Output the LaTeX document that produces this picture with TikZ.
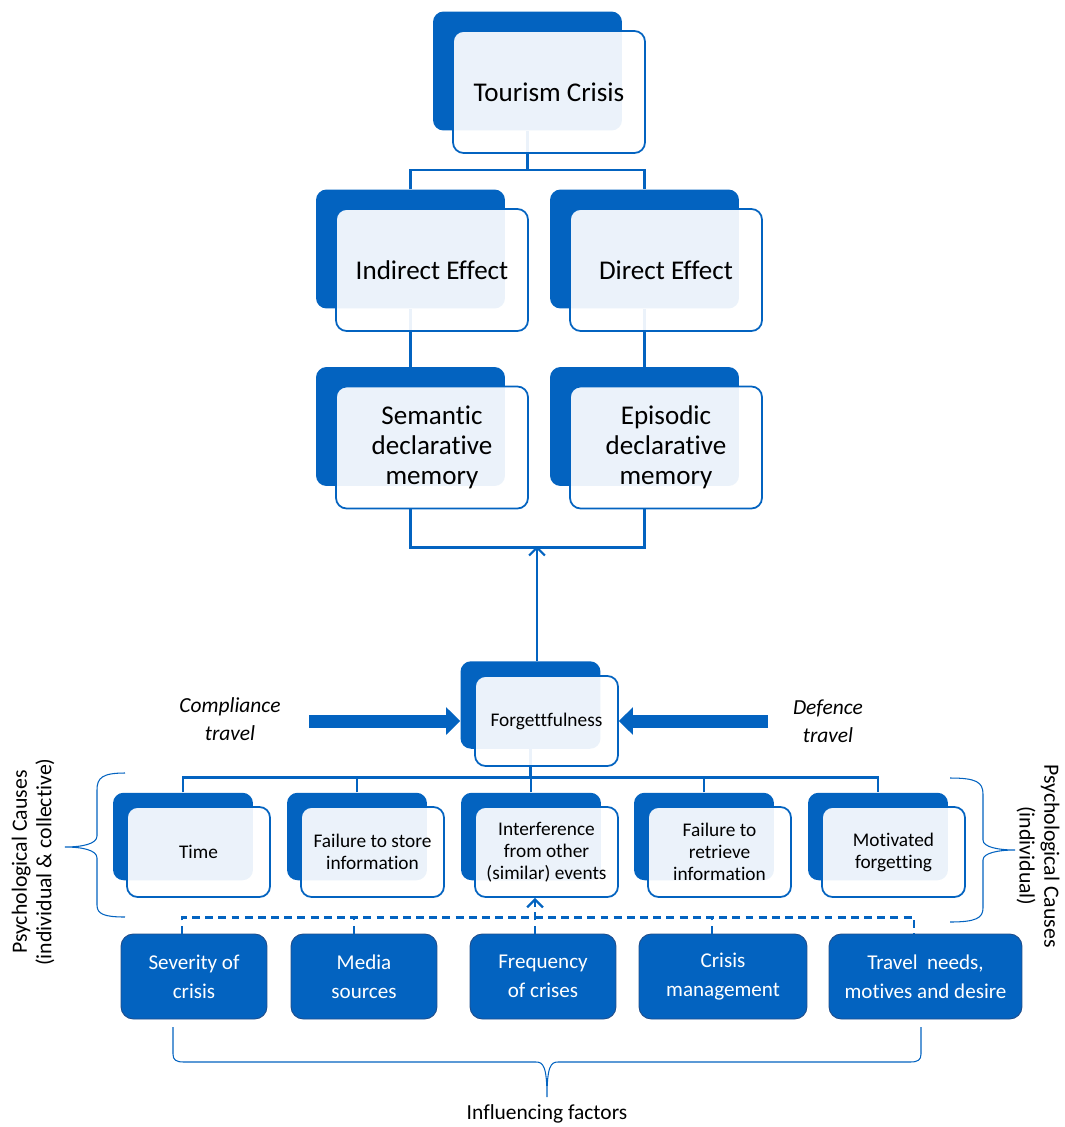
\documentclass[tikz,border=0pt]{standalone}
\usepackage{fontspec}
\setmainfont{Carlito}[Ligatures=NoCommon]
\usetikzlibrary{arrows.meta}
\definecolor{cblue}{RGB}{3,99,192}
\definecolor{cedge}{RGB}{32,78,140}

\begin{document}
\begin{tikzpicture}[x=0.02cm, y=-0.02cm,
    back/.style={fill=cblue, rounded corners=6pt, inner sep=0pt},
    bigback/.style={back, minimum width=3.78cm, minimum height=2.38cm},
    smallback/.style={back, minimum width=2.8cm, minimum height=1.75cm},
    front/.style={draw=cblue, line width=1pt, fill=white, fill opacity=0.92, text opacity=1,
        rounded corners=6pt, inner sep=0pt, align=center},
    bigfront/.style={front, minimum width=3.84cm, minimum height=2.44cm, font=\fontsize{15.4}{17}\selectfont},
    smallfront/.style={front, minimum width=2.86cm, minimum height=1.8cm, font=\fontsize{11}{12.5}\selectfont},
    factor/.style={draw=cedge, line width=0.5pt, fill=cblue, text=white, rounded corners=7pt,
        minimum height=1.7cm, inner sep=0pt, align=center, font=\fontsize{12}{16.4}\selectfont},
    link/.style={draw=cblue, line width=1.3pt},
    dlink/.style={draw=cblue, line width=1.3pt, dash pattern=on 4.5pt off 3pt},
    barb/.style={-{Straight Barb[length=4.5pt, width=9pt]}},
    brace/.style={draw=cblue, line width=0.6pt},
    blockarrow/.style={draw=cblue, line width=7.4pt, -{Triangle[width=15.3pt, length=8pt]}},
    travel/.style={font=\fontsize{12.2}{16}\selectfont\itshape, align=center},
    side/.style={font=\fontsize{12.4}{14}\selectfont, align=center}
]
    \useasboundingbox (0,0) rectangle (1065,1127);

    % back boxes
    \node[bigback] (01b) at (527.5,71) {};
    \node[bigback] (02b) at (410.5,249) {};
    \node[bigback] (03b) at (644.5,249) {};
    \node[bigback] (04b) at (410.5,426.5) {};
    \node[bigback] (05b) at (644.5,426.5) {};
    \node[smallback] (06b) at (530.5,705) {};
    \node[smallback] (07b) at (183,836.5) {};
    \node[smallback] (08b) at (357,836.5) {};
    \node[smallback] (09b) at (531,836.5) {};
    \node[smallback] (10b) at (704,836.5) {};
    \node[smallback] (11b) at (878,836.5) {};

    \draw[link] (01b.south) -- ++(0,40);
    \draw[link] (02b.north) -- ++(0,-19) -| (03b.north);
    \draw[link] (02b.south) -- (04b.north);
    \draw[link] (03b.south) -- (05b.north);
    \draw[link] (06b.south) -- ++(0,29);
    \draw[link] (07b.north) -- ++(0,-15) -| (11b.north);
    \draw[link] (08b.north) -- ++(0,-15);
    \draw[link] (09b.north) -- ++(0,-15);
    \draw[link] (10b.north) -- ++(0,-15);

    % front boxes
    \node[bigfront] (01) at (549,92) {Tourism Crisis};
    \node[bigfront] (02) at (432,270) {Indirect Effect};
    \node[bigfront] (03) at (666,270) {Direct Effect};
    \node[bigfront] (04) at (432,447.5) {Semantic\\declarative\\memory};
    \node[bigfront] (05) at (666,447.5) {Episodic\\declarative\\memory};
    \node[smallfront] (06) at (546.5,721) {Forgettfulness};
    \node[smallfront] (07) at (198.5,852) {Time};
    \node[smallfront] (08) at (372.5,852) {Failure to store\\information};
    \node[smallfront] (09) at (546.5,852) {Interference\\from other\\(similar) events};
    \node[smallfront] (10) at (719.5,852) {Failure to\\retrieve\\information};
    \node[smallfront] (11) at (893.5,852) {Motivated\\forgetting};

    % influencing factors
    \node[factor, minimum width=2.92cm] (12) at (194,976.5) {Severity of\\crisis};
    \node[factor, minimum width=2.92cm] (13) at (364,976.5) {Media\\sources};
    \node[factor, minimum width=2.92cm] (14) at (543,976.5) {Frequency\\of crises};
    \node[factor, minimum width=3.36cm] (15) at (723,976.5) {Crisis\\management};
    \node[factor, minimum width=3.86cm] (16) at (925.5,976.5) {Travel~ needs,\\motives and desire};

    \draw[link] (04b.south |- 04.south) -- ++(0,38) -| (05b.south |- 05.south);
    \coordinate (mem) at (537,546);
    \draw[link, barb] (mem |- 06b.north) -- (mem);

    \draw[dlink] ([xshift=-7pt]12.north) -- ++(0,-16) -| ([xshift=-6.5pt]16.north);
    \draw[dlink] ([xshift=-5.7pt]13.north) -- ++(0,-16);
    \draw[dlink] ([xshift=-6.2pt]15.north) -- ++(0,-16);
    \draw[dlink, barb] ([xshift=-4.5pt]14.north) -- ([xshift=-4.5pt]14.north |- 09.south);

    % compliance and defence
    \node[travel] (ct) at (230,719) {Compliance\\travel};
    \node[travel] (dt) at (828,721) {Defence\\travel};
    \coordinate (cta) at (309,721);
    \coordinate (dta) at (768,721);
    \draw[blockarrow] (cta) -- (06b.west |- 06.west);
    \draw[blockarrow] (dta) -- (06.east);

    % braces
    \draw[brace] (125,773) .. controls (102,773) and (97,778) .. (97,790) -- (97,836)
        .. controls (97,844) and (82,847) .. (65,847) .. controls (82,847) and (97,850) .. (97,858)
        -- (97,905) .. controls (97,914) and (104,917) .. (125,917);
    \draw[brace] (950,778) .. controls (976,778) and (983,782) .. (983,794) -- (983,840)
        .. controls (983,847) and (998,850) .. (1015,850) .. controls (998,850) and (983,853) .. (983,860)
        -- (983,908) .. controls (983,918) and (976,922) .. (950,922);
    \draw[brace] (173,1027) -- (173,1054) .. controls (173,1060) and (176,1062) .. (184,1062) -- (536,1062)
        .. controls (543,1062) and (547,1066) .. (547,1097) .. controls (547,1066) and (551,1062) .. (558,1062)
        -- (910,1062) .. controls (918,1062) and (921,1060) .. (921,1054) -- (921,1027);

    \node[side, rotate=90] (pcl) at (33,862) {Psychological Causes\\(individual \& collective)};
    \node[side, rotate=-90] (pcr) at (1038,856) {Psychological Causes\\(individual)};
    \node[font=\fontsize{12.2}{14}\selectfont] (inf) at (547,1114) {Influencing factors};
\end{tikzpicture}
\end{document}
